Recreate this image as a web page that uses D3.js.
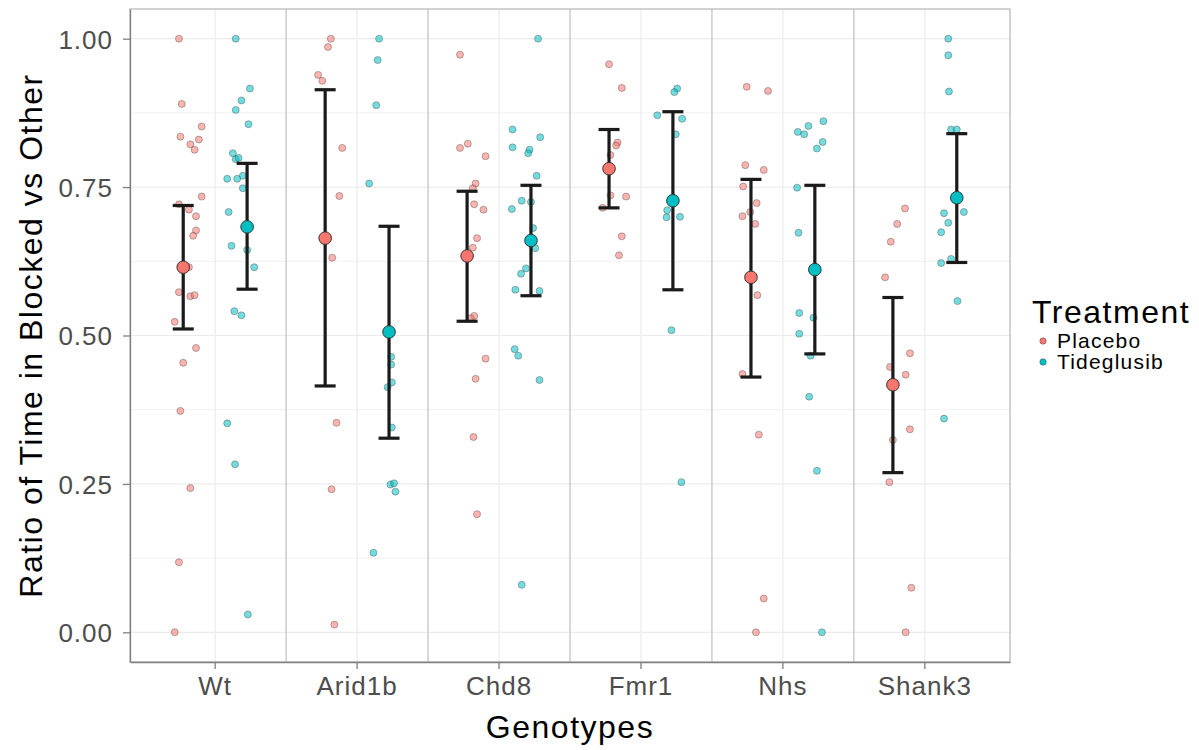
<!DOCTYPE html>
<html><head><meta charset="utf-8">
<script src="https://cdn.jsdelivr.net/npm/d3@7"></script>
<style>
body{margin:0;background:#fff;}
text{font-family:"Liberation Sans",Arial,Helvetica,sans-serif;}
</style></head>
<body><svg id="chart" width="1199" height="750"></svg>
<script>
const genotypes = ["Wt","Arid1b","Chd8","Fmr1","Nhs","Shank3"];
const treatments = ["Placebo","Tideglusib"];
const colors = ["#F8766D","#00BFC4"];
const yTicks = [0,0.25,0.5,0.75,1];
const yTickLabels = ["0.00","0.25","0.50","0.75","1.00"];

// observations: [ratio, jitter (category units)]
const wtPlacebo = [[1.00,-0.03],[0.890,-0.01],[0.852,0.13],[0.835,-0.02],[0.830,0.11],[0.822,0.05],[0.813,0.08],[0.734,0.13],[0.721,-0.03],[0.712,0.04],[0.701,0.09],[0.677,0.09],[0.668,0.07],[0.615,0.04],[0.573,-0.03],[0.566,0.05],[0.568,0.08],[0.523,-0.06],[0.479,0.09],[0.454,0],[0.373,-0.02],[0.243,0.05],[0.118,-0.03],[0.00,-0.06]];
const wtTideglusib = [[1.00,-0.08],[0.916,0.02],[0.896,-0.04],[0.880,-0.08],[0.856,0.01],[0.807,-0.10],[0.797,-0.08],[0.799,-0.06],[0.769,-0.03],[0.764,-0.14],[0.764,-0.07],[0.748,-0.03],[0.708,-0.13],[0.644,0],[0.651,-0.11],[0.615,0.05],[0.541,-0.09],[0.534,-0.04],[0.352,-0.14],[0.283,-0.085],[0.030,0.005]];
const arid1bPlacebo = [[1.00,0.04],[0.986,0.02],[0.939,-0.05],[0.929,-0.02],[0.816,0.12],[0.735,0.10],[0.631,0.05],[0.353,0.08],[0.241,0.045],[0.013,0.065]];
const arid1bTideglusib = [[1.00,-0.07],[0.964,-0.08],[0.888,-0.09],[0.756,-0.14],[0.464,0.015],[0.451,0.015],[0.421,0.02],[0.413,-0.01],[0.345,0.02],[0.249,0.01],[0.251,0.035],[0.237,0.045],[0.134,-0.11]];
const chd8Placebo = [[0.973,-0.05],[0.816,-0.05],[0.823,0.005],[0.802,0.13],[0.756,0.06],[0.748,0.04],[0.721,0.05],[0.712,0.115],[0.664,0.07],[0.648,0.04],[0.533,0.05],[0.529,0.025],[0.461,0.13],[0.427,0.06],[0.329,0.045],[0.199,0.07]];
const chd8Tideglusib = [[1.00,0.05],[0.847,-0.13],[0.834,0.065],[0.817,-0.13],[0.813,-0.01],[0.807,-0.02],[0.769,0.04],[0.727,-0.065],[0.725,0],[0.713,-0.135],[0.681,0.015],[0.647,0.03],[0.613,-0.035],[0.604,-0.07],[0.577,-0.11],[0.575,0.06],[0.477,-0.115],[0.466,-0.09],[0.425,0.06],[0.080,-0.065]];
const fmr1Placebo = [[0.957,0],[0.917,0.09],[0.825,0.06],[0.820,0.05],[0.804,0.01],[0.736,0.01],[0.734,0.12],[0.715,-0.045],[0.667,0.09],[0.635,0.07]];
const fmr1Tideglusib = [[0.916,0.03],[0.910,0.01],[0.871,-0.11],[0.865,0.065],[0.839,0.02],[0.711,-0.04],[0.699,-0.045],[0.700,0.05],[0.509,-0.01],[0.253,0.06]];
const nhsPlacebo = [[0.919,-0.03],[0.912,0.12],[0.787,-0.04],[0.779,0.09],[0.751,-0.055],[0.723,0.04],[0.708,-0.005],[0.701,-0.06],[0.688,0.03],[0.568,0.045],[0.435,-0.06],[0.333,0.055],[0.057,0.09],[0.00,0.035]];
const nhsTideglusib = [[0.861,0.06],[0.853,-0.045],[0.843,-0.12],[0.839,-0.075],[0.826,0.055],[0.815,0.015],[0.749,-0.125],[0.673,-0.115],[0.538,-0.11],[0.530,-0.01],[0.503,-0.11],[0.466,-0.03],[0.397,-0.04],[0.272,0.015],[0.00,0.05]];
const shank3Placebo = [[0.714,0.085],[0.688,0.03],[0.658,-0.015],[0.598,-0.055],[0.470,0.12],[0.447,-0.02],[0.434,0.09],[0.342,0.12],[0.324,0],[0.253,-0.025],[0.075,0.13],[0.00,0.09]];
const shank3Tideglusib = [[1.00,-0.06],[0.972,-0.06],[0.911,-0.055],[0.847,-0.04],[0.847,0],[0.706,-0.09],[0.708,0.05],[0.690,-0.06],[0.674,-0.11],[0.629,-0.04],[0.622,-0.11],[0.558,0.005],[0.360,-0.09]];

// summary per genotype, [Placebo, Tideglusib]
const meanPlacebo    = [0.615,0.664,0.634,0.781,0.598,0.417];
const lowerPlacebo   = [0.511,0.415,0.524,0.715,0.430,0.269];
const upperPlacebo   = [0.719,0.914,0.743,0.847,0.763,0.564];
const meanTideglusib = [0.683,0.506,0.660,0.727,0.611,0.732];
const lowerTideglusib= [0.578,0.327,0.567,0.577,0.469,0.623];
const upperTideglusib= [0.790,0.684,0.753,0.877,0.753,0.840];

const obs = [
  [wtPlacebo,wtTideglusib],[arid1bPlacebo,arid1bTideglusib],[chd8Placebo,chd8Tideglusib],
  [fmr1Placebo,fmr1Tideglusib],[nhsPlacebo,nhsTideglusib],[shank3Placebo,shank3Tideglusib]
];
const points = [];
obs.forEach((pair,gi)=>pair.forEach((arr,ti)=>arr.forEach(d=>points.push({g:genotypes[gi],t:ti,v:d[0],j:d[1]}))));
const summary = [];
genotypes.forEach((g,gi)=>{
  summary.push({g,t:0,m:meanPlacebo[gi],lo:lowerPlacebo[gi],hi:upperPlacebo[gi]});
  summary.push({g,t:1,m:meanTideglusib[gi],lo:lowerTideglusib[gi],hi:upperTideglusib[gi]});
});

const svg = d3.select("#chart");
const L=130, R=1010, T=9, B=662;
const x = d3.scaleBand().domain(genotypes).range([L,R]).paddingInner(0).paddingOuter(0.1);
const bw = x.bandwidth();
const dodge = [-0.225,0.225];
const cx = (g,t,j=0)=> x(g)+bw/2 + (dodge[t]+j)*bw;
const y = d3.scaleLinear().domain([-0.05,1.05]).range([B,T]);

// grid
const grid = svg.append("g");
grid.selectAll(".hmin").data(d3.range(0,1.01,0.125)).join("line")
  .attr("x1",L).attr("x2",R).attr("y1",d=>y(d)).attr("y2",d=>y(d))
  .attr("stroke","#ebebeb").attr("stroke-width",d=>Math.abs(d*4-Math.round(d*4))<1e-6?1.2:0.7);
grid.selectAll(".v").data(genotypes).join("line")
  .attr("x1",d=>x(d)+bw/2).attr("x2",d=>x(d)+bw/2).attr("y1",T).attr("y2",B)
  .attr("stroke","#ebebeb").attr("stroke-width",1.2);
grid.selectAll(".sep").data(genotypes.slice(1)).join("line")
  .attr("x1",d=>x(d)).attr("x2",d=>x(d)).attr("y1",T).attr("y2",B)
  .attr("stroke","#c4c4c4").attr("stroke-width",1.3);

// border
svg.append("rect").attr("x",L).attr("y",T).attr("width",R-L).attr("height",B-T)
  .attr("fill","none").attr("stroke","#b5b5b5").attr("stroke-width",1.2);

// jitter points
svg.append("g").selectAll("circle").data(points).join("circle")
  .attr("cx",d=>cx(d.g,d.t,d.j)).attr("cy",d=>y(d.v)).attr("r",3.5)
  .attr("fill",d=>colors[d.t]).attr("fill-opacity",0.55)
  .attr("stroke","#333").attr("stroke-opacity",0.45).attr("stroke-width",0.8);

// error bars
const eb = svg.append("g").attr("stroke","#1a1a1a").attr("stroke-width",3.2);
eb.selectAll(".vl").data(summary).join("line")
  .attr("x1",d=>cx(d.g,d.t)).attr("x2",d=>cx(d.g,d.t)).attr("y1",d=>y(d.lo)).attr("y2",d=>y(d.hi));
eb.selectAll(".cap1").data(summary).join("line")
  .attr("x1",d=>cx(d.g,d.t)-10.5).attr("x2",d=>cx(d.g,d.t)+10.5).attr("y1",d=>y(d.hi)).attr("y2",d=>y(d.hi));
eb.selectAll(".cap2").data(summary).join("line")
  .attr("x1",d=>cx(d.g,d.t)-10.5).attr("x2",d=>cx(d.g,d.t)+10.5).attr("y1",d=>y(d.lo)).attr("y2",d=>y(d.lo));

// means
svg.append("g").selectAll("circle").data(summary).join("circle")
  .attr("cx",d=>cx(d.g,d.t)).attr("cy",d=>y(d.m)).attr("r",6.3)
  .attr("fill",d=>colors[d.t]).attr("stroke","#333").attr("stroke-width",1);

// axes
const yAxis = svg.append("g").attr("transform",`translate(${L},0)`)
  .call(d3.axisLeft(y).tickValues(yTicks).tickFormat((d,i)=>yTickLabels[i]).tickSizeInner(7).tickSizeOuter(0).tickPadding(10));
const xAxis = svg.append("g").attr("transform",`translate(0,${B})`)
  .call(d3.axisBottom(x).tickSizeInner(7).tickSizeOuter(0).tickPadding(6));
[yAxis,xAxis].forEach(a=>{
  a.select(".domain").attr("stroke","#7f7f7f").attr("stroke-width",1.3);
  a.selectAll(".tick line").attr("stroke","#7f7f7f").attr("stroke-width",1.3);
  a.selectAll(".tick text").attr("fill","#4d4d4d").style("font-size","26px").style("letter-spacing","1px")
   .style("font-family","'Liberation Sans',Arial,sans-serif");
});
yAxis.selectAll(".tick text").attr("dy","0.36em");
xAxis.selectAll(".tick text").attr("dy","0.76em");

// titles
svg.append("text").attr("x",(L+R)/2).attr("y",738).attr("text-anchor","middle")
  .style("font-size","32px").style("letter-spacing","1.5px").text("Genotypes");
svg.append("text").attr("transform",`translate(42,${(T+B)/2}) rotate(-90)`).attr("text-anchor","middle")
  .style("font-size","32px").style("letter-spacing","1.5px").text("Ratio of Time in Blocked vs Other");

// legend
const lg = svg.append("g");
lg.append("text").attr("x",1032).attr("y",323).style("font-size","32px").style("letter-spacing","1.5px").text("Treatment");
lg.selectAll("circle").data(treatments).join("circle")
  .attr("cx",1043).attr("cy",(d,i)=>341+i*21).attr("r",3.2)
  .attr("fill",(d,i)=>colors[i]).attr("stroke","#333").attr("stroke-opacity",0.5).attr("stroke-width",0.8);
lg.selectAll(".lt").data(treatments).join("text")
  .attr("x",1057).attr("y",(d,i)=>348+i*21).style("font-size","21px").style("letter-spacing","1.2px").text(d=>d);
</script></body></html>
